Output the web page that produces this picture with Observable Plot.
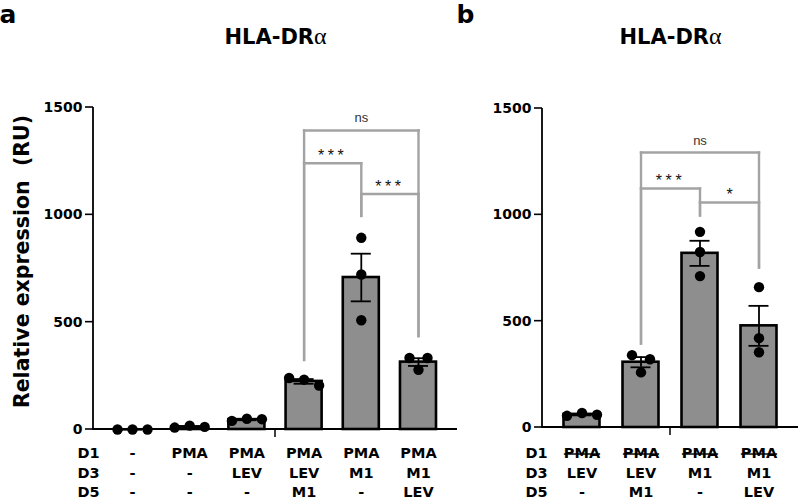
<!DOCTYPE html>
<html><head><meta charset="utf-8">
<script src="https://cdn.jsdelivr.net/npm/d3@7"></script>
<script src="https://cdn.jsdelivr.net/npm/@observablehq/plot@0.6"></script>
<style>
 html,body{margin:0;padding:0;background:#fff;}
 #wrap{position:relative;width:800px;height:499px;overflow:hidden;background:#fff;}
 #wrap svg{position:absolute;top:0;}
 text, tspan{white-space:pre;}
</style></head><body><div id="wrap"></div>
<script>
// ---- shared text ----
const titleText = "HLA-DRα";
const yLabel = "Relative expression  (RU)";
const yTicks = [0, 500, 1000, 1500];
const yMax = 1500;
const rowLabels = ["D1", "D3", "D5"];

// ---- panel a ----
const groupsA = ["A1", "A2", "A3", "A4", "A5", "A6"];
const d1A = ["-", "PMA", "PMA", "PMA", "PMA", "PMA"];
const d3A = ["-", "-", "LEV", "LEV", "M1", "M1"];
const d5A = ["-", "-", "-", "M1", "-", "LEV"];
const meanA = [0, 12, 46, 224, 708, 314];
const semA = [0, 3, 3, 11, 111, 18];
const pointsA = [[0, 0, 0], [9, 18, 12], [40, 50, 48], [240, 232, 205], [893, 722, 509], [333, 333, 278]];
const bracketFromA = ["A4", "A4", "A5"];
const bracketToA = ["A6", "A5", "A6"];
const bracketLevelA = [1393, 1240, 1097];
const legFromA = [324, 324, 995];
const legToA = [435, 995, 435];
const bracketLabelA = ["ns", "***", "***"];
const separatorA = "A3";

// ---- panel b ----
const groupsB = ["B1", "B2", "B3", "B4"];
const d1B = ["PMA", "PMA", "PMA", "PMA"];
const d3B = ["LEV", "LEV", "M1", "M1"];
const d5B = ["-", "M1", "-", "LEV"];
const meanB = [61, 307, 819, 478];
const semB = [4, 24, 59, 94];
const pointsB = [[55, 68, 60], [340, 321, 259], [920, 825, 712], [660, 420, 354]];
const bracketFromB = ["B2", "B2", "B3"];
const bracketToB = ["B4", "B3", "B4"];
const bracketLevelB = [1293, 1124, 1058];
const legFromB = [395, 395, 997];
const legToB = [752, 997, 752];
const bracketLabelB = ["ns", "***", "*"];
const separatorB = "B2";
const struckB = ["PMA"];

// spread overlapping replicate dots horizontally (like GraphPad)
function spreadOffsets(vals, pxPerUnit, minGap) {
  const n = vals.length, parent = vals.map((_, i) => i);
  const find = i => parent[i] === i ? i : (parent[i] = find(parent[i]));
  for (let i = 0; i < n; i++) for (let j = i + 1; j < n; j++)
    if (Math.abs(vals[i] - vals[j]) * pxPerUnit < minGap) parent[find(i)] = find(j);
  const comps = new Map();
  vals.forEach((_, i) => { const r = find(i); if (!comps.has(r)) comps.set(r, []); comps.get(r).push(i); });
  const offs = vals.map(() => 0);
  for (const members of comps.values()) {
    const k = members.length;
    const s = k === 2 ? 18 : 15;
    members.forEach((m, idx) => offs[m] = (idx - (k - 1) / 2) * s);
  }
  return offs;
}

function panel(cfg) {
  const L = cfg.layout;
  const groups = cfg.groups, n = groups.length;
  const step = (L.width - L.ml - L.mr) / (n - L.pi + 2 * L.po);
  const pxPerUnit = (L.height - L.mt - L.mb) / yMax;
  const table = groups.map((g, i) => ({group: g, mean: cfg.mean[i], sem: cfg.sem[i]}));
  const tickText = new Map(groups.map((g, i) => [g, [cfg.d1[i], cfg.d3[i], cfg.d5[i]].join("\n")]));
  const dots = [];
  groups.forEach((g, i) => {
    const vals = cfg.points[i];
    const offs = spreadOffsets(vals, pxPerUnit, 10);
    vals.forEach((v, j) => dots.push({group: g, value: v, off: offs[j]}));
  });
  const offsets = [...new Set(dots.map(d => d.off))];
  const brackets = cfg.bFrom.map((f, i) => ({from: f, to: cfg.bTo[i], level: cfg.bLevel[i], legFrom: cfg.bLegFrom[i], legTo: cfg.bLegTo[i], label: cfg.bLabel[i]}));
  const segs = brackets.flatMap(b => [
    {x1: b.from, x2: b.to, y1: b.level, y2: b.level},
    {x1: b.from, x2: b.from, y1: b.level, y2: b.legFrom},
    {x1: b.to, x2: b.to, y1: b.level, y2: b.legTo}
  ]);
  // axis lines + y ticks + group separator, drawn from the plot's scales
  const axisLines = (index, scales, values, dims) => {
    const g = d3.create("svg:g").attr("stroke", "black").attr("fill", "none");
    const x0 = dims.marginLeft, x1 = dims.width - dims.marginRight;
    const y0 = scales.y(0), yT = scales.y(yMax);
    g.append("line").attr("x1", x0).attr("x2", x0).attr("y1", y0 + 1).attr("y2", yT).attr("stroke-width", 1.8);
    g.append("line").attr("x1", x0 - 1).attr("x2", x1).attr("y1", y0).attr("y2", y0).attr("stroke-width", 2);
    for (const t of yTicks) {
      const yy = scales.y(t);
      g.append("line").attr("x1", x0 - 8).attr("x2", x0).attr("y1", yy).attr("y2", yy).attr("stroke-width", 1.6);
    }
    const xs = scales.x(cfg.separator) + scales.x.bandwidth() + step * L.pi / 2;
    g.append("line").attr("x1", xs).attr("x2", xs).attr("y1", y0).attr("y2", y0 + 8).attr("stroke-width", 1.5);
    return g.node();
  };
  const marks = [
    Plot.barY(table, {x: "group", y: "mean", fill: "#8e8e8e", stroke: "black", strokeWidth: 2.6}),
    ...offsets.map(o => Plot.dot(dots.filter(d => d.off === o), {x: "group", y: "value", r: 5.2, fill: "black", dx: o})),
    Plot.ruleX(table, {x: "group", y1: d => d.mean - d.sem, y2: d => d.mean + d.sem, stroke: "black", strokeWidth: 1.8}),
    Plot.tickY(table, {x: "group", y: d => d.mean + d.sem, stroke: "black", strokeWidth: 1.8, inset: 8}),
    Plot.tickY(table, {x: "group", y: d => d.mean - d.sem, stroke: "black", strokeWidth: 1.8, inset: 8}),
    Plot.link(segs, {x1: "x1", x2: "x2", y1: "y1", y2: "y2", stroke: "#a3a3a3", strokeWidth: 2.4, strokeLinecap: "square"}),
    ...brackets.map(b => Plot.text([b], {
      x: "from", y: "level", text: "label",
      dx: step * (groups.indexOf(b.to) - groups.indexOf(b.from)) / 2,
      dy: b.label === "ns" ? -8 : -2, lineAnchor: "bottom",
      fontFamily: "Liberation Sans", fontWeight: "normal",
      fontSize: b.label === "ns" ? 13 : 16, fill: b.label === "ns" ? "#333" : "#111"
    })),
    axisLines,
    // y tick labels
    Plot.text(yTicks, {y: d => d, text: d => String(d), frameAnchor: "left", textAnchor: "end", dx: -11, fontSize: 14, fontWeight: "bold", fill: "black"}),
    // x tick labels (three rows)
    Plot.text(groups, {x: d => d, text: d => tickText.get(d), frameAnchor: "bottom", lineAnchor: "top", dy: L.tickPad, fontSize: 14.5, fontWeight: "bold", lineHeight: 1.345, fill: "black"}),
    Plot.text([rowLabels.join("\n")], {text: d => d, frameAnchor: "bottom-left", textAnchor: "start", lineAnchor: "top", dx: L.rowDx, dy: L.tickPad, fontSize: 14.5, fontWeight: "bold", lineHeight: 1.345, fill: "black"}),
    Plot.text([titleText], {text: d => d, frameAnchor: "top", lineAnchor: "bottom", dy: L.titleDy, fontSize: 21, fontWeight: "bold", fill: "black"}),
    Plot.text([cfg.letter], {text: d => d, frameAnchor: "top-left", textAnchor: "start", lineAnchor: "bottom", dx: L.letterDx, dy: L.letterDy, fontSize: 25, fontWeight: "bold", fill: "black"})
  ];
  if (cfg.withYLabel) marks.push(Plot.text([yLabel], {text: d => d, frameAnchor: "left", textAnchor: "middle", lineAnchor: "middle", rotate: -90, dx: L.yLabelDx, dy: L.yLabelDy, fontSize: 20.5, fontWeight: "bold", fill: "black"}));
  const svg = Plot.plot({
    width: L.width, height: L.height,
    marginLeft: L.ml, marginRight: L.mr, marginTop: L.mt, marginBottom: L.mb,
    style: {fontFamily: "DejaVu Sans", fontSize: "14px", background: "transparent", overflow: "visible", color: "black"},
    x: {type: "band", domain: groups, paddingInner: L.pi, paddingOuter: L.po, round: false, axis: null},
    y: {domain: [0, yMax], axis: null},
    marks
  });
  svg.style.left = L.left + "px";
  const s = d3.select(svg);
  s.selectAll("text").filter(function () { return this.textContent === titleText; }).each(function () {
    const t = d3.select(this);
    t.text(titleText.slice(0, -1));
    t.append("tspan").attr("font-family", "Liberation Serif").attr("font-weight", "normal").attr("font-size", 24).text(titleText.slice(-1));
  });
  s.selectAll("text").filter(function () { return this.textContent === "***"; }).style("letter-spacing", "3.6px");
  if (cfg.struck) {
    s.selectAll("tspan, text").filter(function () { return this.childElementCount === 0 && cfg.struck.includes(this.textContent); })
      .style("text-decoration", "line-through");
  }
  return svg;
}

const wrap = document.getElementById("wrap");
wrap.appendChild(panel({
  groups: groupsA, d1: d1A, d3: d3A, d5: d5A, mean: meanA, sem: semA, points: pointsA,
  bFrom: bracketFromA, bTo: bracketToA, bLevel: bracketLevelA, bLegFrom: legFromA, bLegTo: legToA, bLabel: bracketLabelA,
  separator: separatorA, letter: "a", withYLabel: true,
  layout: {left: 0, width: 458, height: 499, ml: 93, mr: 1, mt: 107, mb: 70, pi: 0.37, po: 0.367,
    tickPad: 15, rowDx: -16, titleDy: -64, letterDx: -94, letterDy: -85, yLabelDx: -71, yLabelDy: -7}
}));
wrap.appendChild(panel({
  groups: groupsB, d1: d1B, d3: d3B, d5: d5B, mean: meanB, sem: semB, points: pointsB,
  bFrom: bracketFromB, bTo: bracketToB, bLevel: bracketLevelB, bLegFrom: legFromB, bLegTo: legToB, bLabel: bracketLabelB,
  separator: separatorB, letter: "b", withYLabel: false, struck: struckB,
  layout: {left: 450, width: 350, height: 499, ml: 92, mr: 2, mt: 108, mb: 72, pi: 0.39, po: 0.3645,
    tickPad: 17, rowDx: -17, titleDy: -65, letterDx: -86, letterDy: -86}
}));
</script></body></html>
